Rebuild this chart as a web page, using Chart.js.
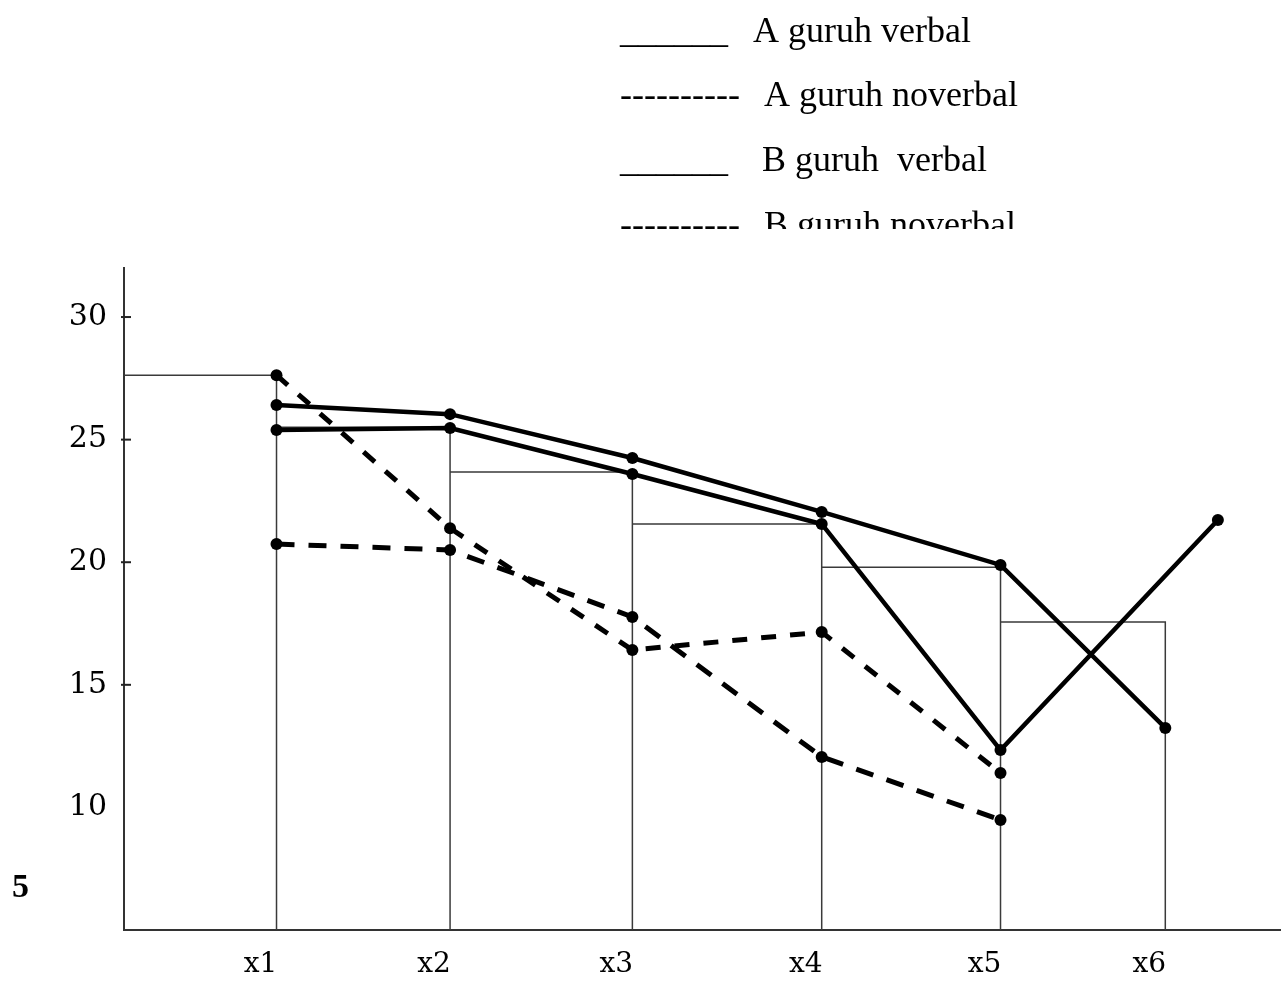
<!DOCTYPE html>
<html>
<head>
<meta charset="utf-8">
<script src="https://cdn.jsdelivr.net/npm/chart.js@4.4.1/dist/chart.umd.min.js"></script>
<style>
  html, body { margin: 0; padding: 0; background: #fff; }
  canvas { display: block; }
</style>
</head>
<body>
<canvas id="c" width="1281" height="981"></canvas>
<script>
// ---- data ----
const xLabels = ['x1', 'x2', 'x3', 'x4', 'x5', 'x6'];
const xPositions = [1.00, 1.99, 3.03, 4.11, 5.13, 6.07];
const binHeights = [27.63, 25.51, 23.68, 21.56, 19.80, 17.56];
const aVerbal = [26.41, 26.04, 24.25, 22.05, 19.89, 13.24];
const bVerbal = [25.39, 25.47, 23.60, 21.56, 12.34, 21.72];
const bVerbalX = [1.00, 1.99, 3.03, 4.11, 5.13, 6.37];
const aNoverbal = [27.63, 21.39, 16.42, 17.15, 11.40];
const bNoverbal = [20.74, 20.50, 17.77, 12.06, 9.49];
const yTickValues = [5, 10, 15, 20, 25, 30];
const yTickMarkValues = [15, 20, 25, 30];
const legendItems = [
  { mark: '______', label: 'A guruh verbal' },
  { mark: '----------', label: 'A guruh noverbal' },
  { mark: '______', label: 'B guruh  verbal' },
  { mark: '----------', label: 'B guruh noverbal' }
];
const xMin = 0.13, xMax = 6.73, yMin = 5, yMax = 32;

// ---- build tables for the library ----
const outline = [{ x: xMin, y: binHeights[0] }];
for (let i = 0; i < binHeights.length; i++) {
  outline.push({ x: xPositions[i], y: binHeights[i] });
  outline.push({ x: xPositions[i], y: yMin });
  if (i + 1 < binHeights.length) outline.push({ x: xPositions[i], y: binHeights[i + 1] });
}
const pts = (xs, ys) => ys.map((v, i) => ({ x: xs[i], y: v }));

const lineStyle = {
  borderColor: '#000',
  backgroundColor: '#000',
  pointBackgroundColor: '#000',
  pointBorderWidth: 0,
  pointRadius: 6,
  tension: 0,
  fill: false,
  borderCapStyle: 'butt',
  order: 0
};

const extras = {
  id: 'extras',
  beforeDraw(chart) {
    const ctx = chart.ctx;
    ctx.save();
    ctx.fillStyle = '#fff';
    ctx.fillRect(0, 0, chart.width, chart.height);
    ctx.restore();
  },
  afterDraw(chart) {
    const ctx = chart.ctx;
    const y = chart.scales.y;
    const area = chart.chartArea;
    ctx.save();
    // small tick marks on the y axis
    ctx.strokeStyle = '#222';
    ctx.lineWidth = 2;
    yTickMarkValues.forEach(v => {
      const py = y.getPixelForValue(v);
      ctx.beginPath();
      ctx.moveTo(area.left - 3, py);
      ctx.lineTo(area.left + 7, py);
      ctx.stroke();
    });
    // bold "5" label
    ctx.fillStyle = '#000';
    ctx.font = 'bold 34px "Liberation Serif", serif';
    ctx.textAlign = 'left';
    ctx.textBaseline = 'middle';
    ctx.fillText(String(yTickValues[0]), 12, 888);
    // legend text (clipped at bottom like the reference)
    ctx.beginPath();
    ctx.rect(0, 0, chart.width, 229);
    ctx.clip();
    ctx.font = '36px "Liberation Serif", serif';
    ctx.textBaseline = 'alphabetic';
    const baselines = [42, 106, 171, 236];
    const labelX = [753, 764, 762, 764];
    legendItems.forEach((it, i) => {
      ctx.fillText(it.mark, 620, baselines[i]);
      ctx.fillText(it.label, labelX[i], baselines[i]);
    });
    ctx.restore();
  }
};

new Chart(document.getElementById('c'), {
  type: 'line',
  data: {
    datasets: [
      {
        label: 'bars',
        data: outline,
        borderColor: '#3a3a3a',
        borderWidth: 1.5,
        pointRadius: 0,
        tension: 0,
        fill: false,
        borderJoinStyle: 'miter',
        order: 10
      },
      Object.assign({ label: 'A guruh verbal', data: pts(xPositions, aVerbal), borderWidth: 4.5 }, lineStyle),
      Object.assign({ label: 'B guruh verbal', data: pts(bVerbalX, bVerbal), borderWidth: 4.5 }, lineStyle),
      Object.assign({ label: 'A guruh noverbal', data: pts(xPositions, aNoverbal), borderWidth: 5, borderDash: [15, 14] }, lineStyle),
      Object.assign({ label: 'B guruh noverbal', data: pts(xPositions, bNoverbal), borderWidth: 5, borderDash: [18, 14] }, lineStyle)
    ]
  },
  options: {
    responsive: false,
    animation: false,
    events: [],
    layout: { autoPadding: false, padding: { top: 268, left: 0, right: 0, bottom: 0 } },
    plugins: { legend: { display: false }, tooltip: { enabled: false } },
    scales: {
      x: {
        type: 'linear',
        min: xMin,
        max: xMax,
        afterBuildTicks: s => { s.ticks = xPositions.map(v => ({ value: v })); },
        afterFit: s => { s.height = 51; },
        grid: { display: true, drawOnChartArea: false, drawTicks: false },
        border: { display: true, color: '#333', width: 2 },
        ticks: {
          autoSkip: false,
          maxRotation: 0,
          labelOffset: -16,
          padding: 18,
          color: '#000',
          font: { family: '"DejaVu Serif", serif', size: 28 },
          callback: (v, i) => xLabels[i]
        }
      },
      y: {
        type: 'linear',
        min: yMin,
        max: yMax,
        afterBuildTicks: s => { s.ticks = yTickValues.map(v => ({ value: v })); },
        afterFit: s => { s.width = 124; },
        grid: { display: true, drawOnChartArea: false, drawTicks: false },
        border: { display: true, color: '#333', width: 2 },
        ticks: {
          padding: 17,
          color: '#000',
          font: { family: '"DejaVu Serif", serif', size: 30 },
          callback: (v) => (v === yTickValues[0] ? '' : String(v))
        }
      }
    }
  },
  plugins: [extras]
});
</script>
</body>
</html>
